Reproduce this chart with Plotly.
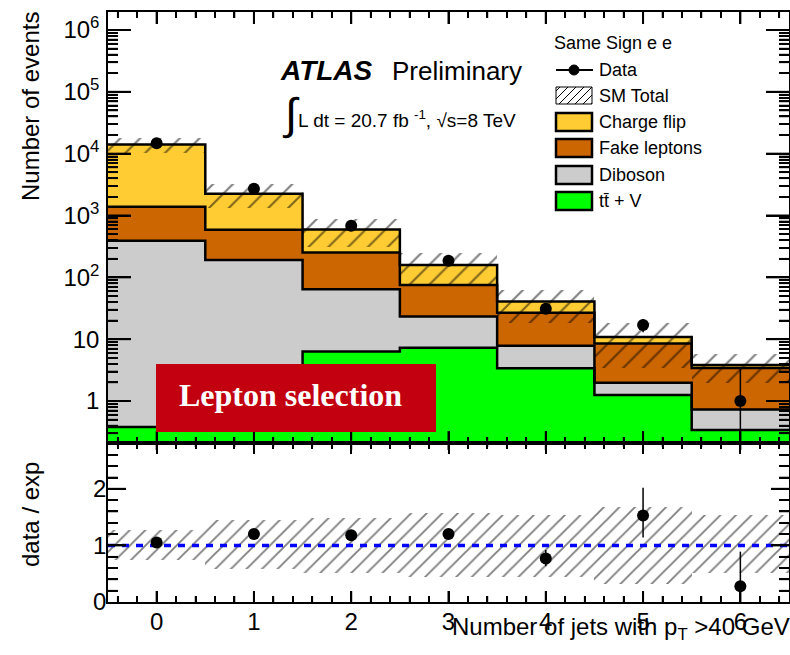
import plotly.graph_objects as go
import numpy as np

# ---------------- data ----------------
n_jets = [0, 1, 2, 3, 4, 5, 6]
x_edges = [-0.5, 0.5, 1.5, 2.5, 3.5, 4.5, 5.5, 6.5]

ttv = [0.38, 0.35, 6.3, 7.3, 3.4, 1.25, 0.34]
diboson = [390, 190, 58, 16, 4.4, 0.73, 0.39]
fake_leptons = [990, 400, 188, 52, 19, 6.5, 2.7]
charge_flip = [12700, 1650, 340, 83, 14, 2.4, 0.4]

data = [14800, 2700, 680, 185, 31, 17, 1]
data_err_up = [122, 52, 26, 13.5, 5.6, 4.1, 2.3]
data_err_dn = [122, 52, 26, 13.5, 5.6, 4.1, 0.99]

ratio = [1.05, 1.2, 1.18, 1.2, 0.77, 1.53, 0.28]
ratio_err_up = [0.02, 0.03, 0.05, 0.08, 0.15, 0.49, 0.61]
ratio_err_dn = [0.02, 0.03, 0.05, 0.08, 0.14, 0.39, 0.27]

band_hi = [1.28, 1.45, 1.49, 1.57, 1.53, 1.68, 1.53]
band_lo = [0.74, 0.59, 0.52, 0.45, 0.45, 0.32, 0.51]

y_tick_vals = [1, 10, 100, 1000, 1e4, 1e5, 1e6]
y_tick_text = ["1", "10", "10<sup>2</sup>", "10<sup>3</sup>", "10<sup>4</sup>",
               "10<sup>5</sup>", "10<sup>6</sup>"]
x_tick_text = ["0", "1", "2", "3", "4", "5", "6"]
r_tick_vals = [0, 1, 2]

C_FLIP = "#FFCC33"
C_FAKE = "#CC6600"
C_DIB = "#CCCCCC"
C_TTV = "#00FF00"

# ---------------- geometry helpers ----------------
W, H = 790, 655
ML, MR, MT, MB = 108, 1, 12, 53
PW = W - ML - MR
PH = H - MT - MB
X_RANGE = [-0.5, 6.5]
LOGY_RANGE = [-0.679, 6.291]
R_RANGE = [0, 2.81]


def px(x):
    return (x - ML) / PW


def py(y):
    return (H - MB - y) / PH


split = py(443)

# ---------------- cumulative stack ----------------
c1 = np.array(ttv)
c2 = c1 + np.array(diboson)
c3 = c2 + np.array(fake_leptons)
c4 = c3 + np.array(charge_flip)

fig = go.Figure()

for cum, col in [(c4, C_FLIP), (c3, C_FAKE), (c2, C_DIB), (c1, C_TTV)]:
    fig.add_trace(go.Bar(x=n_jets, y=cum, width=1, marker=dict(color=col, line=dict(width=0)),
                         xaxis="x", yaxis="y", showlegend=False, hoverinfo="skip"))

# hatched SM uncertainty band (top)
fig.add_trace(go.Bar(
    x=n_jets, y=c4 * (np.array(band_hi) - np.array(band_lo)), base=c4 * np.array(band_lo),
    width=1,
    marker=dict(color="rgba(0,0,0,0)", line=dict(width=0),
                pattern=dict(shape="/", fgcolor="black", bgcolor="rgba(0,0,0,0)",
                             size=14, solidity=0.15, fillmode="overlay")),
    xaxis="x", yaxis="y", showlegend=False, hoverinfo="skip"))

# outlines
for cum in [c4, c3, c2, c1]:
    fig.add_trace(go.Scatter(x=x_edges, y=list(cum) + [cum[-1]], mode="lines",
                             line=dict(color="black", width=2.5, shape="hv"),
                             xaxis="x", yaxis="y", showlegend=False, hoverinfo="skip"))

# data
fig.add_trace(go.Scatter(
    x=n_jets, y=data, mode="markers",
    marker=dict(color="black", size=12),
    error_y=dict(type="data", array=data_err_up, arrayminus=data_err_dn,
                 color="black", thickness=1.5, width=0),
    xaxis="x", yaxis="y", showlegend=False))

# ratio band
fig.add_trace(go.Bar(
    x=n_jets, y=np.array(band_hi) - np.array(band_lo), base=band_lo, width=1,
    marker=dict(color="rgba(0,0,0,0)", line=dict(width=0),
                pattern=dict(shape="/", fgcolor="black", bgcolor="rgba(0,0,0,0)",
                             size=11, solidity=0.17, fillmode="overlay")),
    xaxis="x2", yaxis="y2", showlegend=False, hoverinfo="skip"))

fig.add_trace(go.Scatter(x=[x_edges[0], x_edges[-1]], y=[1, 1], mode="lines",
                         line=dict(color="#0000FF", width=3.5, dash="7px,7px"),
                         xaxis="x2", yaxis="y2", showlegend=False, hoverinfo="skip"))

fig.add_trace(go.Scatter(
    x=n_jets, y=ratio, mode="markers",
    marker=dict(color="black", size=12),
    error_y=dict(type="data", array=ratio_err_up, arrayminus=ratio_err_dn,
                 color="black", thickness=1.5, width=0),
    xaxis="x2", yaxis="y2", showlegend=False))

# ---------------- axes ----------------
FONT = "Liberation Sans, Arial, sans-serif"
axis_common = dict(showline=True, linecolor="black", linewidth=1.5, mirror="allticks",
                   ticks="inside", tickcolor="black", showgrid=False, zeroline=False,
                   automargin=False)

log_minor = [m * 10 ** e for e in range(-1, 7) for m in range(2, 10)]
x_minor = [round(0.2 * k, 3) for k in range(-2, 33)]
x_minor = [v for v in x_minor if abs(v - round(v)) > 1e-6]
r_minor = [round(0.2 * k, 3) for k in range(1, 15)]
r_minor = [v for v in r_minor if abs(v - round(v)) > 1e-6]

fig.update_layout(
    width=W, height=H,
    margin=dict(l=ML, r=MR, t=MT, b=MB, autoexpand=False),
    paper_bgcolor="white", plot_bgcolor="white",
    barmode="overlay", bargap=0,
    font=dict(family=FONT, color="black"),
    xaxis=dict(domain=[0, 1], anchor="y", range=X_RANGE, showticklabels=False,
               tickmode="array", tickvals=n_jets, ticklen=12, tickwidth=2,
               minor=dict(ticks="inside", tickmode="array", tickvals=x_minor, ticklen=6,
                          tickcolor="black", tickwidth=1.6),
               **axis_common),
    yaxis=dict(domain=[split, 1], anchor="x", type="log", range=LOGY_RANGE,
               tickmode="array", tickvals=y_tick_vals, ticktext=y_tick_text,
               ticklen=23, tickwidth=2,
               tickfont=dict(size=24), ticklabelstandoff=2,
               minor=dict(ticks="inside", tickmode="array", tickvals=log_minor, ticklen=10,
                          tickcolor="black", tickwidth=1.6),
               **axis_common),
    xaxis2=dict(domain=[0, 1], anchor="y2", range=X_RANGE,
                tickmode="array", tickvals=n_jets, ticktext=x_tick_text,
                ticklen=11, tickwidth=2,
                tickfont=dict(size=24), ticklabelstandoff=-3,
                minor=dict(ticks="inside", tickmode="array", tickvals=x_minor, ticklen=6,
                           tickcolor="black", tickwidth=1.6),
                **axis_common),
    yaxis2=dict(domain=[0, split], anchor="x2", range=R_RANGE,
                tickmode="array", tickvals=r_tick_vals, ticktext=["0", "1", "2"],
                ticklen=18, tickwidth=2,
                tickfont=dict(size=24), ticklabelstandoff=-5,
                minor=dict(ticks="inside", tickmode="array", tickvals=r_minor, ticklen=10,
                           tickcolor="black", tickwidth=1.6),
                **axis_common),
)

# ---------------- annotations ----------------
anns = []


def ann(text, x, y, size, xanchor="left", yanchor="middle", family=FONT, color="black", angle=0):
    anns.append(dict(text=text, x=px(x), y=py(y), xref="paper", yref="paper",
                     xanchor=xanchor, yanchor=yanchor, showarrow=False, textangle=angle,
                     font=dict(size=size, family=family, color=color)))


ann("Number of events", 30, 107, 24, xanchor="center", angle=-90)
ann("data / exp", 30, 515, 24, xanchor="center", angle=-90)
ann("Number of jets with p<sub>T</sub> >40 GeV", 792, 628, 24, xanchor="right")

ann("<b><i>ATLAS</i></b>", 278, 70, 28)
ann("Preliminary", 390, 71, 26)
ann("\u222B", 280, 114, 44)
ann("L dt = 20.7 fb <sup>-1</sup>, \u221As=8 TeV", 296, 119, 19)

# legend
ann("Same Sign e e", 552, 43, 18)
leg_items = [("Data", 70), ("SM Total", 96), ("Charge flip", 122), ("Fake leptons", 148),
             ("Diboson", 175), ("tt\u0304 + V", 201)]
for txt, yy in leg_items:
    ann(txt, 597, yy, 18)

# red label
ann("<b>Lepton selection</b>", 290, 395, 32, xanchor="center",
    family="Liberation Serif, Times New Roman, serif", color="white")

fig.update_layout(annotations=anns)

# ---------------- shapes ----------------
shapes = []


def seg(x0, y0, x1, y1, lw, col="black"):
    shapes.append(dict(type="line", xref="paper", yref="paper",
                       x0=float(x0), x1=float(x1), y0=float(y0), y1=float(y1),
                       line=dict(color=col, width=lw), layer="above"))


def rect(x0, y0, x1, y1, fill, lw, lc="black"):
    shapes.append(dict(type="rect", xref="paper", yref="paper", x0=px(x0), x1=px(x1),
                       y0=py(y1), y1=py(y0), fillcolor=fill, line=dict(color=lc, width=lw),
                       layer="above"))


def line(x0, y0, x1, y1, lw, col="black"):
    seg(px(x0), py(y0), px(x1), py(y1), lw, col)


# ROOT-style inside ticks on every frame edge (axis decoration, reinforcing axis ticks)
def xfrac(v):
    return (v - X_RANGE[0]) / (X_RANGE[1] - X_RANGE[0])


def ytop_frac(v):
    return split + (np.log10(v) - LOGY_RANGE[0]) / (LOGY_RANGE[1] - LOGY_RANGE[0]) * (1 - split)


def yrat_frac(v):
    return v / (R_RANGE[1] - R_RANGE[0]) * split


MAJ_W, MIN_W = 2, 1.6


def xticks(yedge, direction, major_len, minor_len):
    for k in range(-2, 33):
        v = round(0.2 * k, 3)
        if v <= X_RANGE[0] or v >= X_RANGE[1]:
            continue
        is_major = abs(v - round(v)) < 1e-6
        tl = (major_len if is_major else minor_len) / PH
        seg(xfrac(v), yedge, xfrac(v), yedge + direction * tl, MAJ_W if is_major else MIN_W)


def yticks(vals_fracs, major_len, minor_len):
    for yf, is_major in vals_fracs:
        tl = (major_len if is_major else minor_len) / PW
        lw = MAJ_W if is_major else MIN_W
        seg(0, yf, tl, yf, lw)
        seg(1, yf, 1 - tl, yf, lw)


xticks(1.0, -1, 12, 6)
xticks(split, 1, 12, 6)
xticks(split, -1, 7, 4)
xticks(0.0, 1, 11, 6)

top_list = []
for e in range(-1, 7):
    for m in range(1, 10):
        v = m * 10.0 ** e
        lv = np.log10(v)
        if LOGY_RANGE[0] < lv < LOGY_RANGE[1]:
            top_list.append((ytop_frac(v), m == 1))
yticks(top_list, 23, 10)

rat_list = []
for k in range(1, 15):
    v = round(0.2 * k, 3)
    if v < R_RANGE[1]:
        rat_list.append((yrat_frac(v), abs(v - round(v)) < 1e-6))
yticks(rat_list, 18, 10)

# label box
rect(156, 364, 436, 432, "#C20010", 0, "#C20010")

# data legend marker
line(556, 70, 593, 70, 2)
shapes.append(dict(type="circle", xref="paper", yref="paper", x0=px(569), x1=px(579),
                   y0=py(75), y1=py(65), fillcolor="black", line=dict(color="black", width=1),
                   layer="above"))
# SM total hatched swatch
sx0, sx1, sy0, sy1 = 556, 592, 87, 104
rect(sx0, sy0, sx1, sy1, "white", 1)
hgt = sy1 - sy0
for k in range(0, 7):
    x0 = sx0 - hgt + 4 + k * 8
    xs, xe = max(x0, sx0), min(x0 + hgt, sx1)
    if xe > xs:
        line(xs, sy1 - (xs - x0), xe, sy1 - (xe - x0), 1)
rect(556, 113, 592, 131, C_FLIP, 2.5)
rect(556, 139, 592, 157, C_FAKE, 2.5)
rect(556, 166, 592, 184, C_DIB, 2.5)
rect(556, 192, 592, 210, C_TTV, 2.5)

fig.update_layout(shapes=shapes)

fig.write_html("out.html", config={"displayModeBar": False},
               post_script="document.body.style.margin='0';document.body.style.padding='0';")
